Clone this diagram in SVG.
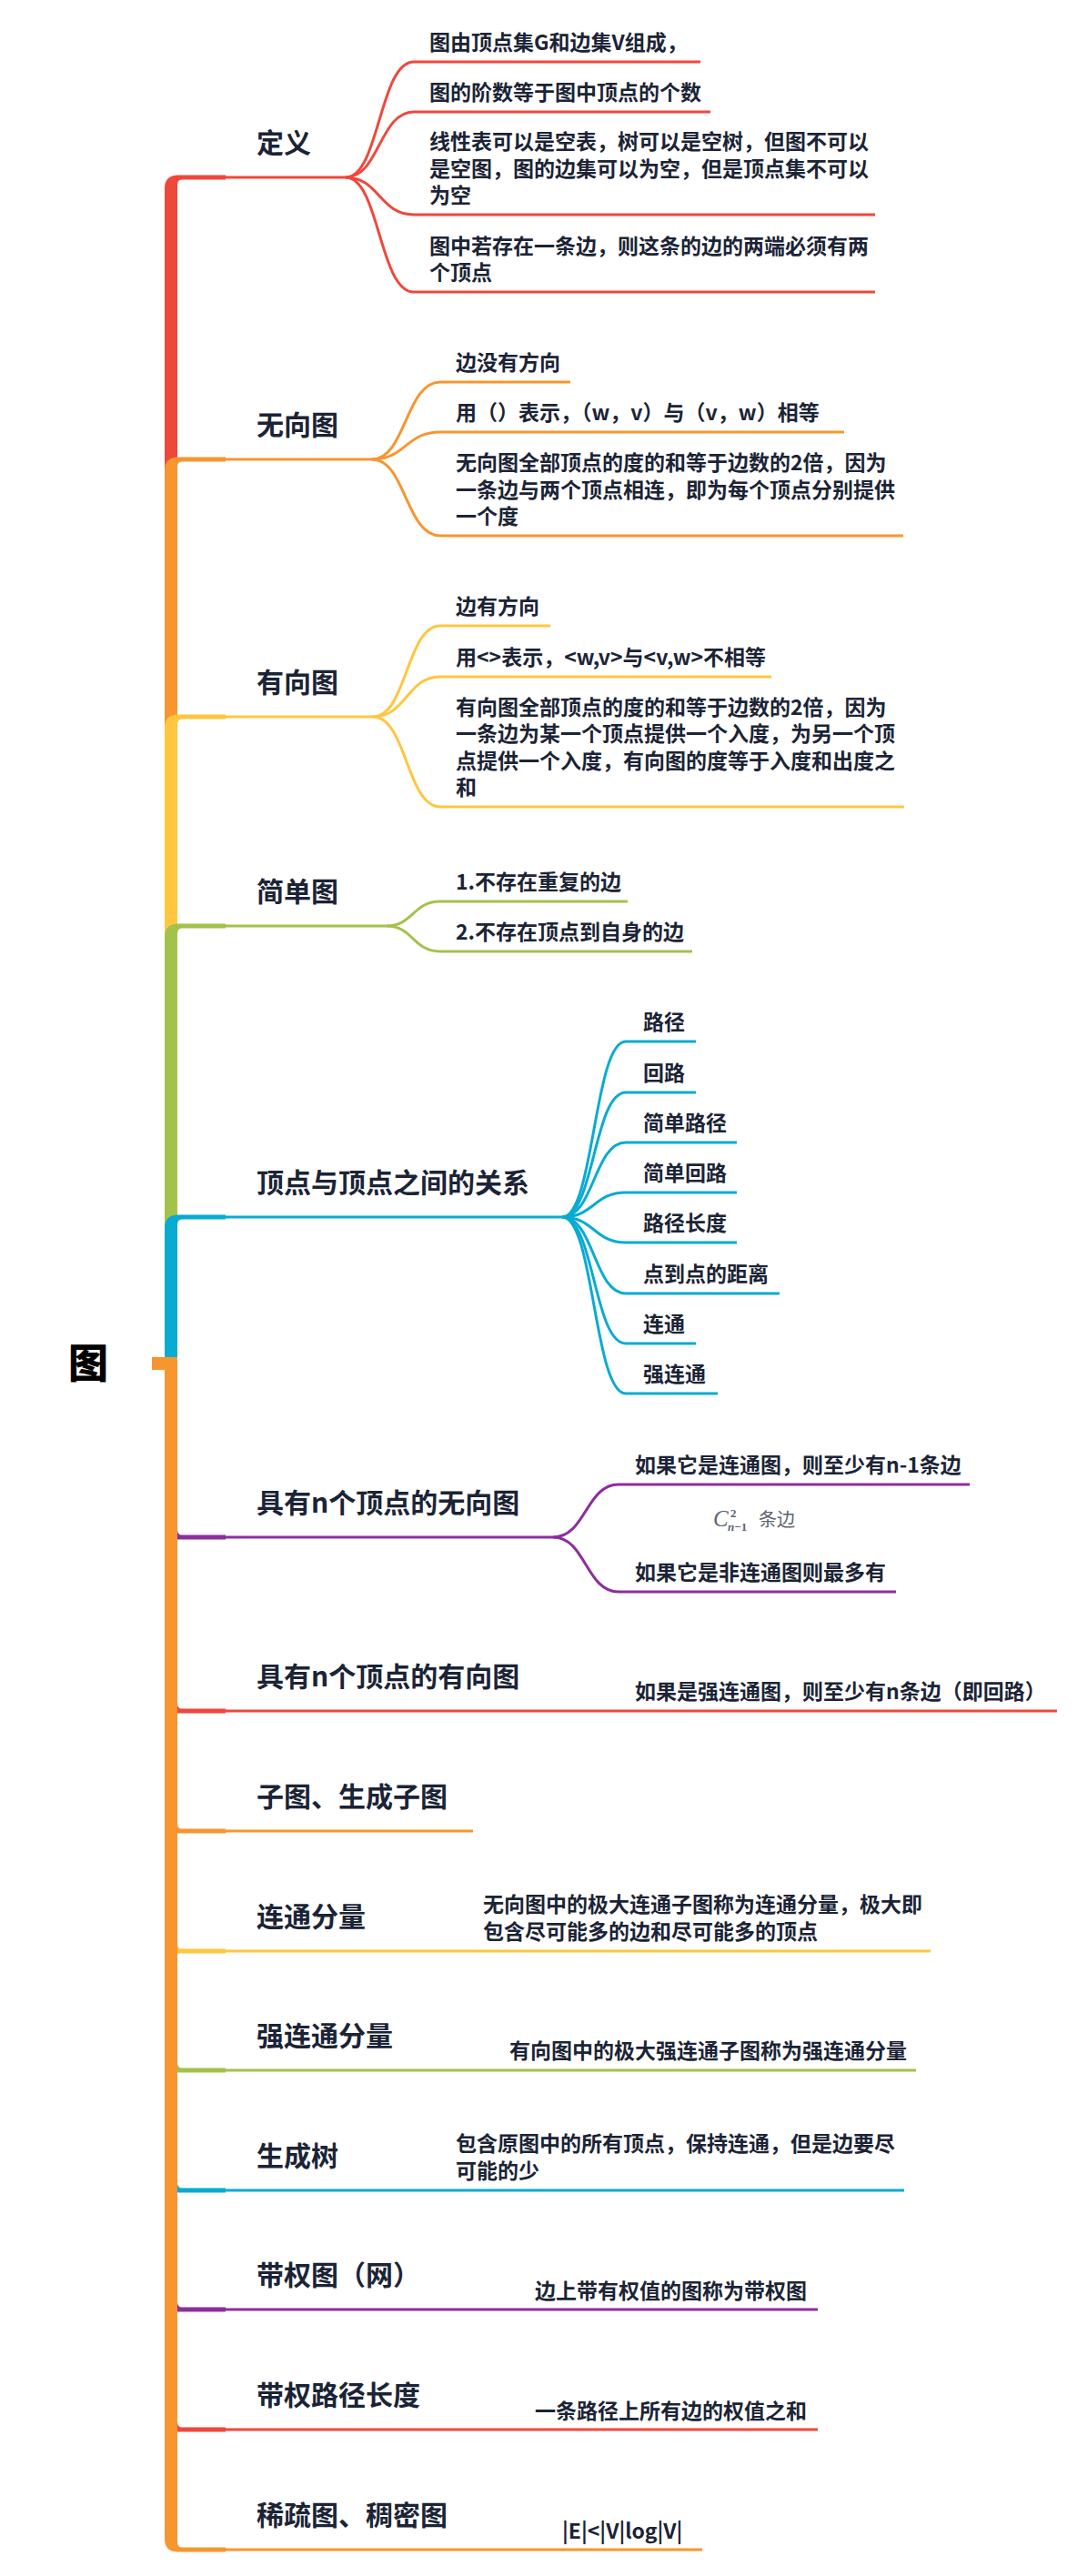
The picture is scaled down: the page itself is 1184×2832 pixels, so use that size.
<svg xmlns="http://www.w3.org/2000/svg" width="1184" height="2832" viewBox="0 0 1184 2832">
<style>
.t{font-family:"Noto Sans CJK SC","Noto Sans",sans-serif;font-weight:700;fill:#1b2436}
.c{font-size:23px}
.m{font-size:30px}
.ln{fill:none;stroke-width:3}
.red{stroke:#F0473B}.ora{stroke:#F7952F}.yel{stroke:#FFC63E}.gre{stroke:#A3C24B}.blu{stroke:#08ABD2}.pur{stroke:#8B2E9E}
.fred{fill:#F0473B}.fora{fill:#F7952F}.fyel{fill:#FFC63E}.fgre{fill:#A3C24B}.fblu{fill:#08ABD2}.fpur{fill:#8B2E9E}
.f{font-family:"Liberation Serif",serif;fill:#5d6472}
</style>
<rect width="1184" height="2832" fill="#ffffff"/>
<g id="connectors">
<path class="fred" d="M181,1492 V207 Q181,192.5 196,192.5 H248 V197.5 H200 Q195,197.5 195,203.5 V1492 Z"/>
<path class="fora" d="M181,1492 V517 Q181,502.5 196,502.5 H248 V507.5 H200 Q195,507.5 195,513.5 V1492 Z"/>
<path class="fyel" d="M181,1492 V800 Q181,785.5 196,785.5 H248 V790.5 H200 Q195,790.5 195,796.5 V1492 Z"/>
<path class="fgre" d="M181,1492 V1030 Q181,1015.5 196,1015.5 H248 V1020.5 H200 Q195,1020.5 195,1026.5 V1492 Z"/>
<path class="fblu" d="M181,1492 V1350 Q181,1335.5 196,1335.5 H248 V1340.5 H200 Q195,1340.5 195,1346.5 V1492 Z"/>
<path class="fpur" d="M181,1492 V1678 Q181,1692.5 196,1692.5 H248 V1687.5 H200 Q195,1687.5 195,1681.5 V1492 Z"/>
<path class="fred" d="M181,1492 V1869 Q181,1883.5 196,1883.5 H248 V1878.5 H200 Q195,1878.5 195,1872.5 V1492 Z"/>
<path class="fora" d="M181,1492 V2001 Q181,2015.5 196,2015.5 H248 V2010.5 H200 Q195,2010.5 195,2004.5 V1492 Z"/>
<path class="fyel" d="M181,1492 V2133 Q181,2147.5 196,2147.5 H248 V2142.5 H200 Q195,2142.5 195,2136.5 V1492 Z"/>
<path class="fgre" d="M181,1492 V2264 Q181,2278.5 196,2278.5 H248 V2273.5 H200 Q195,2273.5 195,2267.5 V1492 Z"/>
<path class="fblu" d="M181,1492 V2396 Q181,2410.5 196,2410.5 H248 V2405.5 H200 Q195,2405.5 195,2399.5 V1492 Z"/>
<path class="fpur" d="M181,1492 V2527 Q181,2541.5 196,2541.5 H248 V2536.5 H200 Q195,2536.5 195,2530.5 V1492 Z"/>
<path class="fred" d="M181,1492 V2659 Q181,2673.5 196,2673.5 H248 V2668.5 H200 Q195,2668.5 195,2662.5 V1492 Z"/>
<path class="fora" d="M181,1492 V2791 Q181,2805.5 196,2805.5 H248 V2800.5 H200 Q195,2800.5 195,2794.5 V1492 Z"/>
<rect class="fora" x="167" y="1492" width="20" height="14"/>
<path class="ln red" d="M247,195 H380"/>
<path class="ln red" d="M380,195 C417,195 417,68 455,68 H770"/>
<path class="ln red" d="M380,195 C417,195 417,123 455,123 H781"/>
<path class="ln red" d="M380,195 C417,195 417,236 455,236 H962"/>
<path class="ln red" d="M380,195 C417,195 417,321 455,321 H962"/>
<path class="ln ora" d="M247,505 H409"/>
<path class="ln ora" d="M409,505 C446,505 446,420 484,420 H627"/>
<path class="ln ora" d="M409,505 C446,505 446,475 484,475 H928"/>
<path class="ln ora" d="M409,505 C446,505 446,589 484,589 H993"/>
<path class="ln yel" d="M247,788 H410"/>
<path class="ln yel" d="M410,788 C447,788 447,688 484,688 H605"/>
<path class="ln yel" d="M410,788 C447,788 447,744 484,744 H848"/>
<path class="ln yel" d="M410,788 C447,788 447,887 484,887 H994"/>
<path class="ln gre" d="M247,1018 H425"/>
<path class="ln gre" d="M425,1018 C454,1018 454,991 484,991 H690"/>
<path class="ln gre" d="M425,1018 C454,1018 454,1046 484,1046 H761"/>
<path class="ln blu" d="M247,1338 H618"/>
<path class="ln blu" d="M618,1338 C653,1338 653,1145 688,1145 H765"/>
<path class="ln blu" d="M618,1338 C653,1338 653,1201 688,1201 H765"/>
<path class="ln blu" d="M618,1338 C653,1338 653,1256 688,1256 H810"/>
<path class="ln blu" d="M618,1338 C653,1338 653,1311 688,1311 H810"/>
<path class="ln blu" d="M618,1338 C653,1338 653,1366 688,1366 H810"/>
<path class="ln blu" d="M618,1338 C653,1338 653,1422 688,1422 H857"/>
<path class="ln blu" d="M618,1338 C653,1338 653,1477 688,1477 H765"/>
<path class="ln blu" d="M618,1338 C653,1338 653,1532 688,1532 H789"/>
<path class="ln pur" d="M247,1690 H608"/>
<path class="ln pur" d="M608,1690 C644,1690 644,1632 680,1632 H1066"/>
<path class="ln pur" d="M608,1690 C644,1690 644,1750 680,1750 H985"/>
<path class="ln red" d="M247,1881 H1162"/>
<path class="ln ora" d="M247,2013 H520"/>
<path class="ln yel" d="M247,2145 H1023"/>
<path class="ln gre" d="M247,2276 H1007"/>
<path class="ln blu" d="M247,2408 H994"/>
<path class="ln pur" d="M247,2539 H899"/>
<path class="ln red" d="M247,2671 H899"/>
<path class="ln ora" d="M247,2803 H772"/>
</g>
<g id="root"><text x="97" y="1515" text-anchor="middle" font-family="Noto Sans CJK SC,sans-serif" font-weight="900" font-size="44" fill="#000">图</text></g>
<g id="n1">
<text class="t m" x="282" y="168">定义</text>
<text class="t c" x="472" y="55">图由顶点集G和边集V组成，</text>
<text class="t c" x="472" y="110">图的阶数等于图中顶点的个数</text>
<text class="t c" x="472" y="164">线性表可以是空表，树可以是空树，但图不可以</text>
<text class="t c" x="472" y="193.5">是空图，图的边集可以为空，但是顶点集不可以</text>
<text class="t c" x="472" y="223">为空</text>
<text class="t c" x="472" y="279">图中若存在一条边，则这条的边的两端必须有两</text>
<text class="t c" x="472" y="308">个顶点</text>
</g>
<g id="n2">
<text class="t m" x="282" y="478">无向图</text>
<text class="t c" x="501" y="407">边没有方向</text>
<text class="t c" x="501" y="462">用（）表示，（w，v）与（v，w）相等</text>
<text class="t c" x="501" y="517">无向图全部顶点的度的和等于边数的2倍，因为</text>
<text class="t c" x="501" y="546.5">一条边与两个顶点相连，即为每个顶点分别提供</text>
<text class="t c" x="501" y="576">一个度</text>
</g>
<g id="n3">
<text class="t m" x="282" y="761">有向图</text>
<text class="t c" x="501" y="675">边有方向</text>
<text class="t c" x="501" y="731">用&lt;&gt;表示，&lt;w,v&gt;与&lt;v,w&gt;不相等</text>
<text class="t c" x="501" y="786">有向图全部顶点的度的和等于边数的2倍，因为</text>
<text class="t c" x="501" y="815">一条边为某一个顶点提供一个入度，为另一个顶</text>
<text class="t c" x="501" y="844.5">点提供一个入度，有向图的度等于入度和出度之</text>
<text class="t c" x="501" y="874">和</text>
</g>
<g id="n4">
<text class="t m" x="282" y="991">简单图</text>
<text class="t c" x="501" y="978">1.不存在重复的边</text>
<text class="t c" x="501" y="1033">2.不存在顶点到自身的边</text>
</g>
<g id="n5">
<text class="t m" x="282" y="1311">顶点与顶点之间的关系</text>
<text class="t c" x="707" y="1132">路径</text>
<text class="t c" x="707" y="1188">回路</text>
<text class="t c" x="707" y="1243">简单路径</text>
<text class="t c" x="707" y="1298">简单回路</text>
<text class="t c" x="707" y="1353">路径长度</text>
<text class="t c" x="707" y="1409">点到点的距离</text>
<text class="t c" x="707" y="1464">连通</text>
<text class="t c" x="707" y="1519">强连通</text>
</g>
<g id="n6">
<text class="t m" x="282" y="1663">具有n个顶点的无向图</text>
<text class="t c" x="698" y="1619">如果它是连通图，则至少有n-1条边</text>
<text class="f" x="784" y="1678" font-style="italic" font-size="25">C</text>
<text class="f" x="803" y="1668" font-weight="bold" font-size="13">2</text>
<text class="f" x="800" y="1683" font-weight="bold" font-size="13"><tspan font-style="italic">n</tspan>−1</text>
<text x="834" y="1678" font-family="Noto Sans CJK SC,sans-serif" font-size="20" fill="#5d6472">条边</text>
<text class="t c" x="698" y="1737">如果它是非连通图则最多有</text>
</g>
<g id="n7">
<text class="t m" x="282" y="1854">具有n个顶点的有向图</text>
<text class="t c" x="698" y="1868">如果是强连通图，则至少有n条边（即回路）</text>
</g>
<g id="n8">
<text class="t m" x="282" y="1986">子图、生成子图</text>
</g>
<g id="n9">
<text class="t m" x="282" y="2118">连通分量</text>
<text class="t c" x="531" y="2102">无向图中的极大连通子图称为连通分量，极大即</text>
<text class="t c" x="531" y="2132">包含尽可能多的边和尽可能多的顶点</text>
</g>
<g id="n10">
<text class="t m" x="282" y="2249">强连通分量</text>
<text class="t c" x="560" y="2263">有向图中的极大强连通子图称为强连通分量</text>
</g>
<g id="n11">
<text class="t m" x="282" y="2381">生成树</text>
<text class="t c" x="501" y="2365">包含原图中的所有顶点，保持连通，但是边要尽</text>
<text class="t c" x="501" y="2394.5">可能的少</text>
</g>
<g id="n12">
<text class="t m" x="282" y="2512">带权图（网）</text>
<text class="t c" x="588" y="2527">边上带有权值的图称为带权图</text>
</g>
<g id="n13">
<text class="t m" x="282" y="2644">带权路径长度</text>
<text class="t c" x="588" y="2659">一条路径上所有边的权值之和</text>
</g>
<g id="n14">
<text class="t m" x="282" y="2776">稀疏图、稠密图</text>
<text class="t c" x="618" y="2791">|E|&lt;|V|log|V|</text>
</g>
</svg>
